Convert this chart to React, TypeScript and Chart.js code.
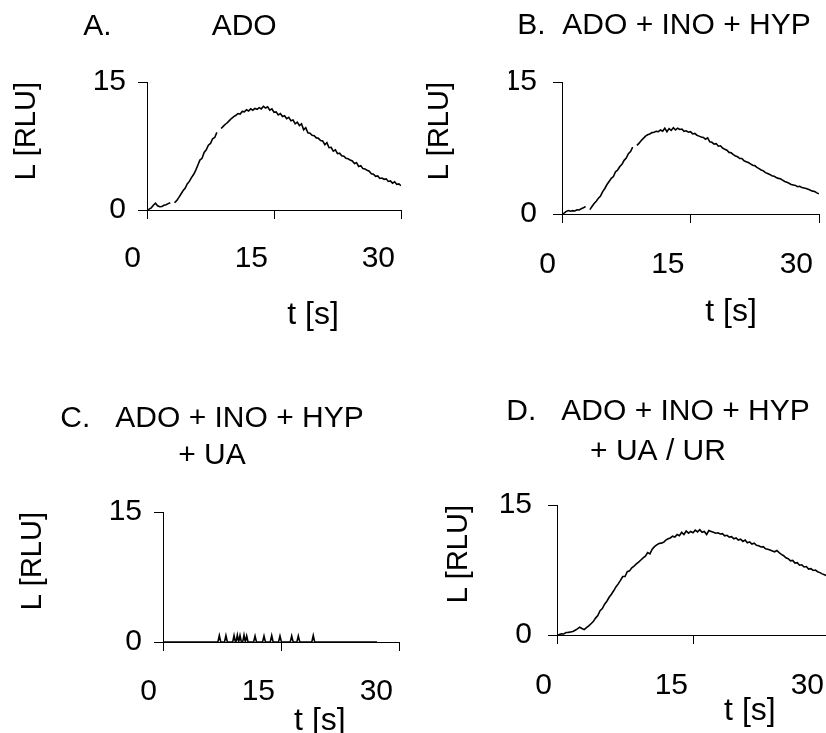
import React, { useEffect, useRef } from "react";
import { Chart, registerables } from "chart.js";

Chart.register(...registerables);
Chart.defaults.font.family = "'Liberation Sans', Arial, sans-serif";
Chart.defaults.color = "#000";

// ---- data ----
const TIMES = [
  0, 0.25, 0.5, 0.75, 1, 1.25, 1.5, 1.75,
  2, 2.25, 2.5, 2.75, 3, 3.25, 3.5, 3.75,
  4, 4.25, 4.5, 4.75, 5, 5.25, 5.5, 5.75,
  6, 6.25, 6.5, 6.75, 7, 7.25, 7.5, 7.75,
  8, 8.25, 8.5, 8.75, 9, 9.25, 9.5, 9.75,
  10, 10.25, 10.5, 10.75, 11, 11.25, 11.5, 11.75,
  12, 12.25, 12.5, 12.75, 13, 13.25, 13.5, 13.75,
  14, 14.25, 14.5, 14.75, 15, 15.25, 15.5, 15.75,
  16, 16.25, 16.5, 16.75, 17, 17.25, 17.5, 17.75,
  18, 18.25, 18.5, 18.75, 19, 19.25, 19.5, 19.75,
  20, 20.25, 20.5, 20.75, 21, 21.25, 21.5, 21.75,
  22, 22.25, 22.5, 22.75, 23, 23.25, 23.5, 23.75,
  24, 24.25, 24.5, 24.75, 25, 25.25, 25.5, 25.75,
  26, 26.25, 26.5, 26.75, 27, 27.25, 27.5, 27.75,
  28, 28.25, 28.5, 28.75, 29, 29.25, 29.5, 29.75,
  30,
];

const A_VALUES = [
  0.0, 0.1, 0.25, 0.55, 0.8, 0.5, 0.38, 0.42,
  0.55, 0.62, 0.75, 0.86, null, 0.85, 1.1, 1.45,
  1.85, 2.25, 2.55, 3.05, 3.35, 3.8, 4.15, 4.65,
  5.25, 5.85, 6.05, 6.75, 7.05, 7.6, 7.8, 8.35,
  8.5, 9.1, null, 9.55, 9.8, 10.05, 10.25, 10.5,
  10.75, 10.95, 11.1, 11.3, 11.25, 11.55, 11.5, 11.75,
  11.6, 11.85, 11.7, 11.9, 11.8, 12.0, 11.85, 12.15,
  11.95, 12.1, 11.7, 11.85, 11.45, 11.5, 11.15, 11.3,
  10.95, 11.05, 10.7, 10.85, 10.45, 10.55, 10.1, 10.3,
  9.9, 10.1, 9.4, 9.65, 9.05, 9.0, 8.75, 8.7,
  8.45, 8.4, 8.15, 8.1, 7.65, 7.9, 7.3, 7.35,
  6.9, 7.05, 6.6, 6.65, 6.35, 6.3, 6.05, 6.0,
  5.85, 5.75, 5.45, 5.55, 5.1, 5.2, 4.85, 4.8,
  4.65, 4.55, 4.25, 4.2, 3.95, 4.0, 3.7, 3.75,
  3.6, 3.65, 3.35, 3.4, 3.15, 3.3, 3.0, 3.05,
  2.85,
];

const B_VALUES = [
  0.0, 0.1, 0.3, 0.4, 0.32, 0.38, 0.35, 0.48,
  0.45, 0.6, 0.7, 0.85, null, 0.5, 0.85, 1.2,
  1.45, 1.8, 2.05, 2.55, 2.9, 3.35, 3.7, 4.05,
  4.25, 4.8, 5.0, 5.4, 5.65, 6.1, 6.35, 6.85,
  7.1, 7.6, null, 7.8, 8.05, 8.35, 8.6, 8.85,
  9.0, 9.1, 9.25, 9.3, 9.4, 9.35, 9.55, 9.4,
  9.75, 9.35, 9.7, 9.5, 9.8, 9.55, 9.75, 9.6,
  9.65, 9.4, 9.45, 9.3, 9.35, 9.1, 9.15, 8.95,
  8.85, 8.75, 8.7, 8.5, 8.65, 8.2, 8.15, 7.95,
  8.0, 7.7, 7.75, 7.5, 7.35, 7.25, 7.0, 6.95,
  6.75, 6.6, 6.5, 6.3, 6.3, 6.05, 5.95, 5.85,
  5.7, 5.55, 5.5, 5.3, 5.15, 5.0, 4.9, 4.7,
  4.6, 4.5, 4.35, 4.3, 4.15, 4.05, 4.0, 3.85,
  3.7, 3.6, 3.5, 3.35, 3.3, 3.25, 3.1, 3.15,
  3.0, 2.95, 2.9, 2.8, 2.7, 2.6, 2.55, 2.4,
  2.3,
];

const C_TIMES = [
  0, 6.98, 7.16, 7.34, 7.82, 8.0, 8.18, 8.86, 9.03, 9.2, 9.28, 9.45, 9.62,
  9.79, 9.96, 10.13, 10.3, 10.47, 10.64, 10.81, 11.52, 11.7, 11.88, 12.66,
  12.84, 13.02, 13.64, 13.82, 14.0, 14.69, 14.87, 15.05, 16.18, 16.36,
  16.54, 17.02, 17.2, 17.38, 18.92, 19.1, 19.28, 27.2,
];
const C_VALUES = [
  0, 0, 0.75, 0, 0, 0.75, 0, 0, 0.75, 0, 0, 0.8, 0,
  0.75, 0, 0, 0.8, 0, 0.7, 0, 0, 0.7, 0, 0,
  0.7, 0, 0, 0.75, 0, 0, 0.7, 0, 0, 0.7,
  0, 0, 0.7, 0, 0, 0.75, 0, 0,
];

const D_VALUES = [
  0.0, 0.05, 0.15, 0.12, 0.28, 0.3, 0.35, 0.4,
  0.55, 0.7, 0.9, 0.75, 0.62, 0.85, 1.05, 1.3,
  1.55, 1.95, 2.25, 2.8, 3.05, 3.55, 3.9, 4.35,
  4.7, 5.1, 5.55, 5.9, 6.3, 6.75, 6.75, 7.3,
  7.4, 7.75, 7.95, 8.2, 8.4, 8.65, 8.9, 9.1,
  9.5, 9.35, 9.9, 10.2, 10.4, 10.55, 10.6, 10.7,
  10.95, 11.1, 11.2, 11.4, 11.3, 11.6, 11.45, 11.85,
  11.6, 12.0, 11.75, 11.95, 11.8, 12.1, 11.9, 12.15,
  11.85, 11.95, 11.6, 12.05, 11.95, 11.85, 11.75, 11.8,
  11.65, 11.7, 11.45, 11.5, 11.3, 11.35, 11.1, 11.2,
  10.95, 11.05, 10.8, 10.95, 10.65, 10.75, 10.5, 10.6,
  10.35, 10.3, 10.15, 10.2, 9.95, 9.9, 9.8, 9.7,
  9.6, 9.75, 9.5, 9.3, 9.15, 8.9, 8.8, 8.55,
  8.6, 8.3, 8.35, 8.05, 8.1, 7.85, 7.9, 7.6,
  7.65, 7.45, 7.5, 7.3, 7.2, 7.05, 6.95, 6.85,
  6.8,
];

const X_TICKS = [0, 15, 30];
const Y_TICKS = [0, 15];
const X_MAX = 30;
const Y_MAX = 15;

const A_TITLE = ["A.            ADO"];
const B_TITLE = ["B.  ADO + INO + HYP"];
const C_TITLE = ["C.   ADO + INO + HYP", "+ UA"];
const D_TITLE = ["D.   ADO + INO + HYP", "+ UA / UR"];
const Y_LABEL = "L [RLU]";
const X_LABEL = "t [s]";

// ---- layout (positions / sizes only) ----
type PanelCfg = {
  key: string;
  left: number; top: number; width: number; height: number;
  padLeft: number; padRight: number;
  title: string[]; titleLH: number; titlePadTop: number; titlePadBottom: number;
  yWidth: number; yTitlePad: number; yTickPad: number;
  xHeight: number; xTickPad: number; xLabelOffset: number;
  xTitleSpaces: number; xTitlePadBottom: number;
  times: number[]; values: (number | null)[];
};

const PANELS: PanelCfg[] = [
  {
    key: "A", left: -41, top: 0, width: 467, height: 340, padLeft: 0, padRight: 25,
    title: A_TITLE, titleLH: 36, titlePadTop: 9, titlePadBottom: 37,
    yWidth: 188, yTitlePad: 50.6, yTickPad: 12,
    xHeight: 130, xTickPad: 22, xLabelOffset: -6,
    xTitleSpaces: 7, xTitlePadBottom: 5.8,
    times: TIMES, values: A_VALUES,
  },
  {
    key: "B", left: 413, top: 0, width: 431, height: 340, padLeft: 96, padRight: 25,
    title: B_TITLE, titleLH: 36, titlePadTop: 8, titlePadBottom: 38,
    yWidth: 53, yTitlePad: -86.4, yTickPad: 16,
    xHeight: 126, xTickPad: 24, xLabelOffset: -6,
    xTitleSpaces: 7, xTitlePadBottom: 8.8,
    times: TIMES, values: B_VALUES,
  },
  {
    key: "C", left: 0, top: 366, width: 424, height: 376, padLeft: 25, padRight: 25,
    title: C_TITLE, titleLH: 37, titlePadTop: 34.5, titlePadBottom: 37.5,
    yWidth: 138, yTitlePad: -9.4, yTickPad: 12,
    xHeight: 100, xTickPad: 23, xLabelOffset: -6,
    xTitleSpaces: 6, xTitlePadBottom: 1.8,
    times: C_TIMES, values: C_VALUES,
  },
  {
    key: "D", left: 413, top: 366, width: 441, height: 369, padLeft: 74, padRight: 25,
    title: D_TITLE, titleLH: 40, titlePadTop: 26, titlePadBottom: 33,
    yWidth: 70, yTitlePad: -45.4, yTickPad: 16,
    xHeight: 100, xTickPad: 24, xLabelOffset: -5,
    xTitleSpaces: 6, xTitlePadBottom: 4.8,
    times: TIMES, values: D_VALUES,
  },
];

function Panel({ cfg }: { cfg: PanelCfg }) {
  const ref = useRef<HTMLCanvasElement | null>(null);
  useEffect(() => {
    if (!ref.current) return;
    const points = cfg.times.map((t, i) => ({ x: t, y: cfg.values[i] }));
    const chart = new Chart(ref.current, {
      type: "line",
      data: {
        datasets: [
          {
            data: points as any,
            borderColor: "#000",
            borderWidth: 1.6,
            pointRadius: 0,
            fill: false,
            tension: 0,
            spanGaps: false,
          },
        ],
      },
      options: {
        responsive: false,
        maintainAspectRatio: false,
        animation: false,
        events: [],
        layout: { padding: { left: cfg.padLeft, right: cfg.padRight, top: 0, bottom: 0 } },
        plugins: {
          legend: { display: false },
          tooltip: { enabled: false },
          title: {
            display: true,
            text: cfg.title,
            align: "center",
            color: "#000",
            font: { size: 30, weight: "normal", lineHeight: `${cfg.titleLH}px` } as any,
            padding: { top: cfg.titlePadTop, bottom: cfg.titlePadBottom },
          },
        },
        scales: {
          x: {
            type: "linear",
            min: 0,
            max: X_MAX,
            afterBuildTicks: (s: any) => {
              s.ticks = X_TICKS.map((v) => ({ value: v }));
            },
            afterFit: (s: any) => {
              s.height = cfg.xHeight;
            },
            ticks: {
              align: "end",
              labelOffset: cfg.xLabelOffset,
              padding: cfg.xTickPad,
              color: "#000",
              font: { size: 30 },
              maxRotation: 0,
              minRotation: 0,
              autoSkip: false,
            },
            grid: { drawOnChartArea: false, drawTicks: true, tickLength: 9, color: "#000", lineWidth: 1 },
            border: { display: true, color: "#000", width: 1 },
            title: {
              display: true,
              text: X_LABEL + " ".repeat(cfg.xTitleSpaces),
              align: "end",
              color: "#000",
              font: { size: 32 },
              padding: { top: 0, bottom: cfg.xTitlePadBottom },
            },
          },
          y: {
            type: "linear",
            min: 0,
            max: Y_MAX,
            afterBuildTicks: (s: any) => {
              s.ticks = Y_TICKS.map((v) => ({ value: v }));
            },
            afterFit: (s: any) => {
              s.width = cfg.yWidth;
            },
            ticks: { padding: cfg.yTickPad, color: "#000", font: { size: 30 } },
            grid: { drawOnChartArea: false, drawTicks: true, tickLength: 9, color: "#000", lineWidth: 1 },
            border: { display: true, color: "#000", width: 1 },
            title: {
              display: true,
              text: Y_LABEL,
              align: "end",
              color: "#000",
              font: { size: 29 },
              padding: { top: cfg.yTitlePad, bottom: 0 },
            },
          },
        },
      } as any,
    });
    return () => chart.destroy();
  }, [cfg]);
  return (
    <canvas
      ref={ref}
      width={cfg.width}
      height={cfg.height}
      style={{ position: "absolute", left: cfg.left, top: cfg.top, width: cfg.width, height: cfg.height }}
    />
  );
}

export default function App() {
  return (
    <div
      style={{
        position: "absolute",
        left: 0,
        top: 0,
        width: 826,
        height: 733,
        overflow: "hidden",
        background: "#fff",
      }}
    >
      {PANELS.map((p) => (
        <Panel key={p.key} cfg={p} />
      ))}
    </div>
  );
}
